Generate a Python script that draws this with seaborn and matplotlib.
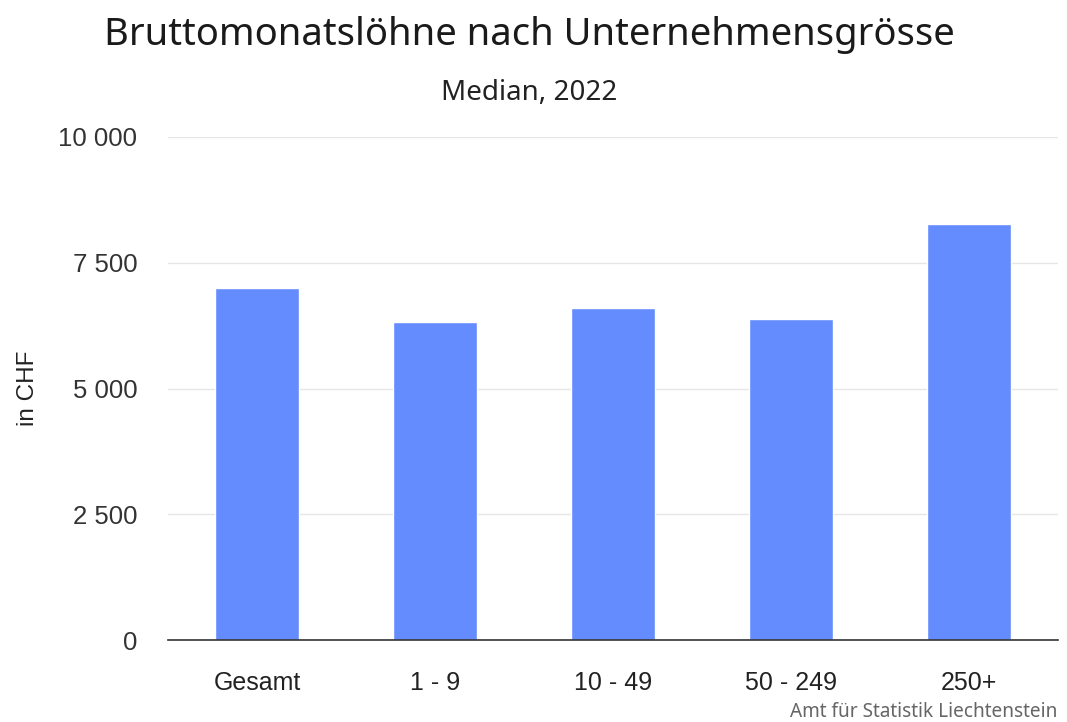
import matplotlib
matplotlib.use("Agg")
import matplotlib.pyplot as plt
import seaborn as sns
import pandas as pd
from matplotlib.ticker import FuncFormatter

categories = ["Gesamt", "1 - 9", "10 - 49", "50 - 249", "250+"]
values = [7000, 6330, 6595, 6375, 8270]
yticks = [0, 2500, 5000, 7500, 10000]

sns.set_theme(style="white")
plt.rcParams['font.family'] = ['Liberation Sans', 'DejaVu Sans']

df = pd.DataFrame({"cat": categories, "val": values})

fig = plt.figure(figsize=(10.67, 7.22), dpi=100)
ax = fig.add_axes([168/1067, 1-640/722, 890/1067, (640-137)/722])

sns.barplot(data=df, x="cat", y="val", color="#648CFF", saturation=1, width=0.47, ax=ax, zorder=3)

ax.set_xlim(-0.5, 4.5)
ax.set_ylim(0, 10000)
ax.set_yticks(yticks)
ax.yaxis.set_major_formatter(FuncFormatter(lambda v, p: f"{int(v):,}".replace(",", " ")))
ax.grid(axis="y", color="#e6e6e6", linewidth=1, zorder=0)
for s in ["top", "right", "left"]:
    ax.spines[s].set_visible(False)
ax.spines["bottom"].set_color("#333333")
ax.spines["bottom"].set_linewidth(1.2)
ax.spines["bottom"].set_zorder(4)
ax.tick_params(axis="y", length=0, pad=22, labelsize=18.5, labelcolor="#333333")
ax.tick_params(axis="x", length=0, pad=22, labelsize=18, labelcolor="#222222")
ax.set_xlabel("")
ax.set_ylabel("in CHF", fontsize=17.5, color="#222222", labelpad=14)

title_font = ["Noto Sans", "DejaVu Sans"]
fig.text(529/1067, 1-35/722, "Bruttomonatslöhne nach Unternehmensgrösse",
         ha="center", va="center", fontsize=27.5, fontweight="medium",
         family=title_font, color="#1a1a1a")
fig.text(529/1067, 1-93/722, "Median, 2022", ha="center", va="center",
         fontsize=20, family=title_font, color="#222222")
fig.text(1057/1067, 1-712/722, "Amt für Statistik Liechtenstein", ha="right", va="center",
         fontsize=13.7, family=title_font, color="#666666")

fig.savefig("out.png", dpi=100)
